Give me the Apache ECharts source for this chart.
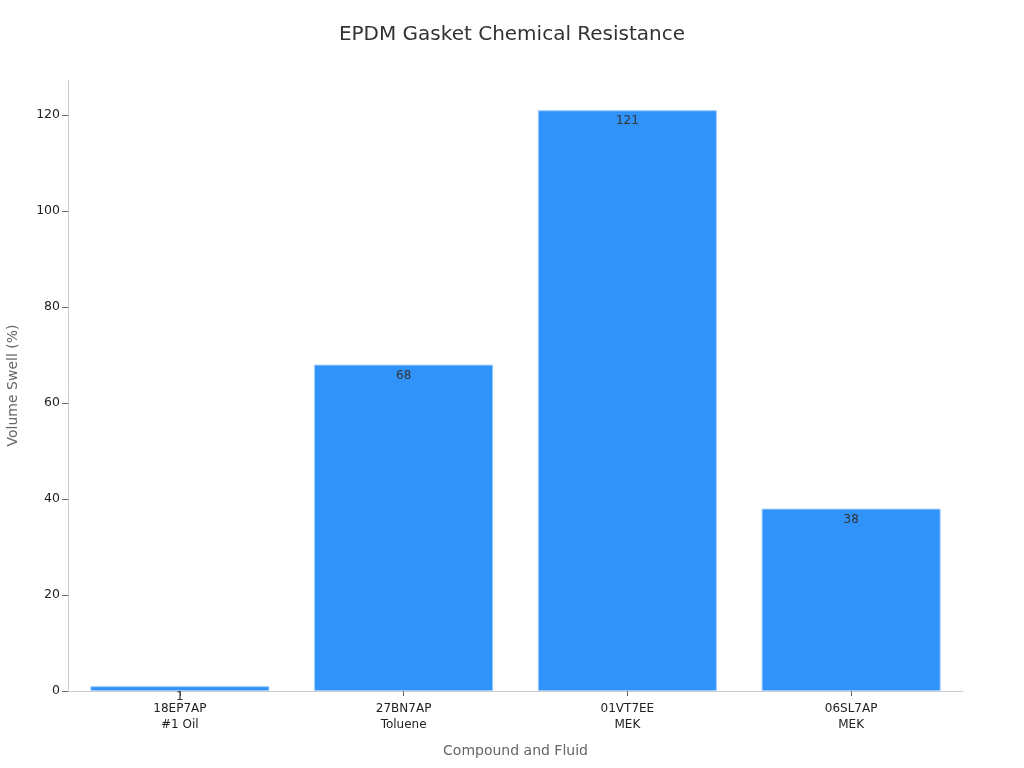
<!DOCTYPE html>
<html>
<head>
<meta charset="utf-8">
<script src="https://cdn.jsdelivr.net/npm/echarts@6/dist/echarts.min.js"></script>
<style>
  html, body { margin: 0; padding: 0; background: #fff; }
  #chart-container { width: 1024px; height: 768px; }
</style>
</head>
<body>
<div id="chart-container"></div>
<script>
const compounds = ["18EP7AP", "27BN7AP", "01VT7EE", "06SL7AP"];
const fluids = ["#1 Oil", "Toluene", "MEK", "MEK"];
const swell = [1, 68, 121, 38];
const yTicks = [0, 20, 40, 60, 80, 100, 120];

(() => {
  var dom = document.getElementById("chart-container");
  var myChart = echarts.init(dom, null, { renderer: "canvas" });

  const categories = compounds.map((c, i) => c + "\n" + fluids[i]);
  const font = "DejaVu Sans";

  var option = {
    textStyle: { fontFamily: font },
    title: {
      text: "EPDM Gasket Chemical Resistance",
      left: "center",
      top: 20,
      textStyle: { fontFamily: font, fontSize: 20, fontWeight: "normal", color: "#333" },
    },
    grid: { left: 68, right: 61, top: 80, bottom: 77, containLabel: false, outerBoundsMode: "none" },
    xAxis: {
      type: "category",
      data: categories,
      name: "Compound and Fluid",
      nameLocation: "middle",
      nameGap: 53,
      nameTextStyle: { fontFamily: font, fontSize: 14, color: "#666" },
      axisLine: { lineStyle: { color: "#ccc" } },
      axisTick: { show: true, alignWithLabel: true, length: 5, lineStyle: { color: "#666" } },
      axisLabel: { fontFamily: font, fontSize: 12, color: "#222", lineHeight: 16, margin: 10 },
    },
    yAxis: {
      type: "value",
      min: yTicks[0],
      max: 127.3,
      interval: 20,
      name: "Volume Swell (%)",
      nameLocation: "middle",
      nameGap: 48,
      nameTextStyle: { fontFamily: font, fontSize: 14, color: "#666" },
      axisLine: { show: true, lineStyle: { color: "#ccc" } },
      axisTick: { show: true, length: 6, lineStyle: { color: "#666" }, customValues: yTicks },
      splitLine: { show: false },
      axisLabel: {
        fontFamily: font, fontSize: 12.5, color: "#222", margin: 8,
        customValues: yTicks,
      },
    },
    series: [
      {
        type: "bar",
        data: swell,
        barWidth: "80%",
        itemStyle: { color: "#2F93FA", borderColor: "#9CCBFB", borderWidth: 1 },
        label: {
          show: true,
          position: "insideTop",
          distance: 5,
          fontFamily: font,
          fontSize: 12,
          color: "#333",
        },
      },
    ],
  };

  myChart.setOption(option);
  window.addEventListener("resize", myChart.resize);
})();
</script>
</body>
</html>
